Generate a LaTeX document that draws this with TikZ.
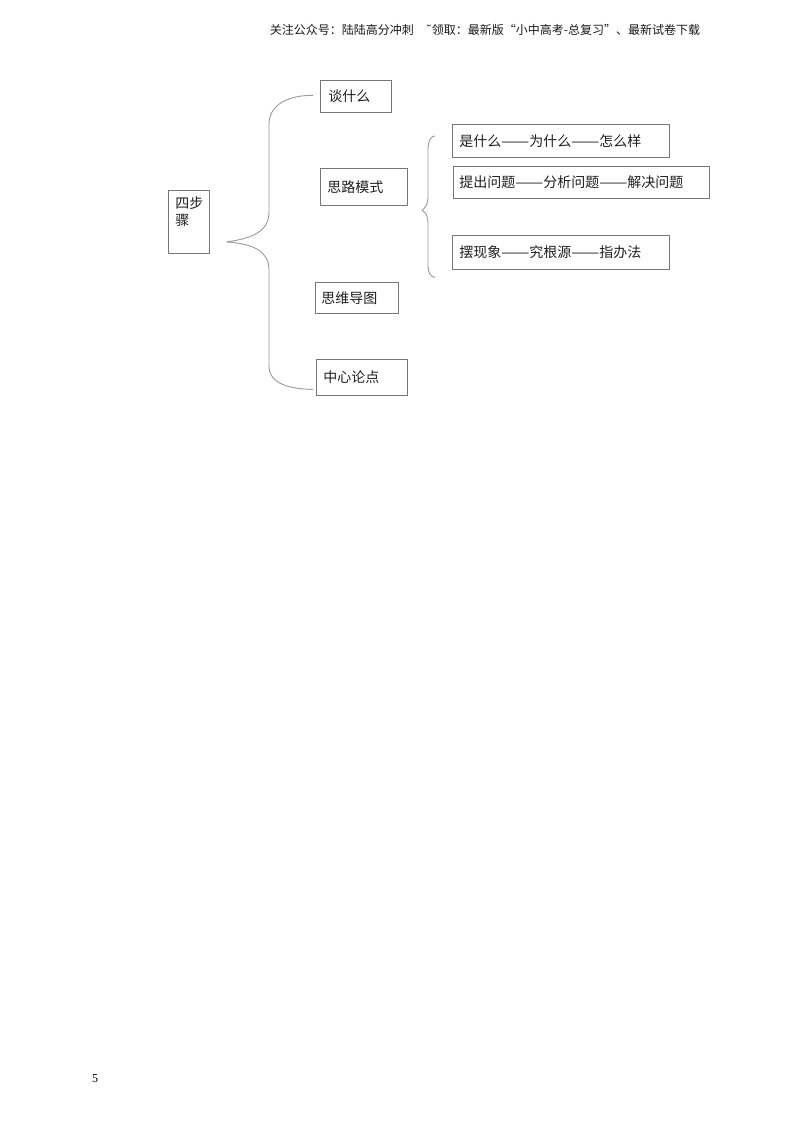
\documentclass[tikz,border=0pt]{standalone}
\usepackage{fontspec}
\usepackage{graphicx}
\setmainfont{Liberation Serif}
\newfontfamily\cjk{Noto Sans CJK SC}
\newfontfamily\djv{DejaVu Sans}
\usetikzlibrary{calc}
\definecolor{boxline}{HTML}{777777}
\definecolor{braceline}{HTML}{9A9A9A}
\newcommand{\dd}{\resizebox{2em}{\height}{——}}
\begin{document}
\begin{tikzpicture}[x=1pt,y=-1pt,
  box/.style={draw=boxline,line width=0.8pt,anchor=north west,inner sep=0pt,align=left,
    font=\cjk\fontsize{14}{17}\selectfont,text=black!88},
  brace/.style={draw=braceline,line width=0.9pt}]
\useasboundingbox (0,0) rectangle (800,1132);
\fill[white] (0,0) rectangle (800,1132);
% header
\node[font=\cjk\fontsize{12}{14}\selectfont,text=black!90] (hdr) at (485,30) {关注公众号：陆陆高分冲刺\quad{\djv ˜}领取：最新版“小中高考-总复习”、最新试卷下载};
% page number
\node[font=\fontsize{12}{14}\selectfont] (pg) at (95,1079) {5};
% boxes
\node[box,minimum width=41pt,minimum height=63pt] (steps) at (168,190) {\begin{minipage}[c][59pt][t]{41pt}\vspace*{4pt}\hspace*{7pt}四步\\\hspace*{7pt}骤\end{minipage}};
\node[box,minimum width=71pt,minimum height=32pt,text width=71pt] (b1) at (320,80) {\hspace*{8pt}谈什么};
\node[box,minimum width=87pt,minimum height=37pt,text width=87pt] (b2) at (320,168) {\hspace*{7pt}思路模式};
\node[box,minimum width=83pt,minimum height=31pt,text width=83pt] (b3) at (315,282) {\hspace*{6pt}思维导图};
\node[box,minimum width=91pt,minimum height=36pt,text width=91pt] (b4) at (316,359) {\hspace*{7pt}中心论点};
\node[box,minimum width=217pt,minimum height=33pt,text width=217pt] (s1) at (452,124) {\hspace*{7pt}是什么\dd 为什么\dd 怎么样};
\node[box,minimum width=256pt,minimum height=32pt,text width=256pt] (s2) at (453,166) {\hspace*{6pt}提出问题\dd 分析问题\dd 解决问题};
\node[box,minimum width=217pt,minimum height=34pt,text width=217pt] (s3) at (452,235) {\hspace*{7pt}摆现象\dd 究根源\dd 指办法};
% big brace
\coordinate (tip) at ($(steps.east)+(17,20)$);
\coordinate (e1) at ($(b1.west)+(-7,-1)$);
\coordinate (e4) at ($(b4.west)+(-3,12)$);
\draw[brace] (tip) .. controls (255,238) and (269,230) .. (269,212) -- (269,124)
  .. controls (269,104) and (290,95) .. (e1);
\draw[brace] (tip) .. controls (255,244) and (269,252) .. (269,270) -- (269,366)
  .. controls (269,384) and (290,389) .. (e4);
% small brace
\coordinate (st) at ($(s2.west)+(-31,28)$);
\coordinate (sa) at ($(s1.west)+(-17,-5)$);
\coordinate (sb) at ($(s3.west)+(-17,25)$);
\draw[brace] (st) .. controls (426,207) and (428,204) .. (428,196) -- (428,150)
  .. controls (428,141) and (431,136) .. (sa);
\draw[brace] (st) .. controls (426,213) and (428,216) .. (428,224) -- (428,266)
  .. controls (428,273) and (431,277) .. (sb);
\end{tikzpicture}
\end{document}
